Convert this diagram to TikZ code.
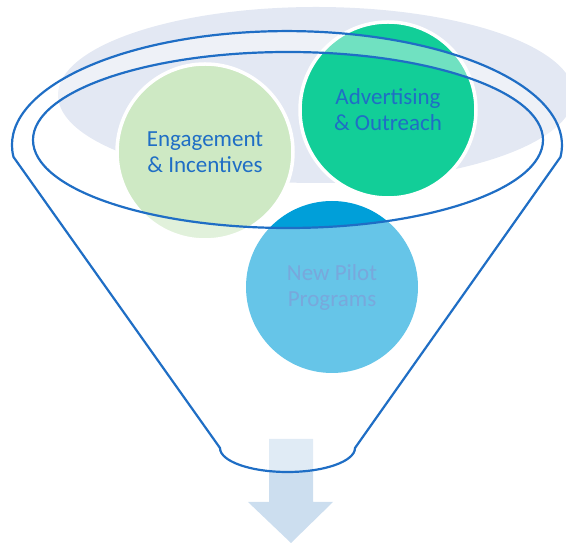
\documentclass[tikz,border=0pt]{standalone}
\usepackage{fontspec}
\setmainfont{Carlito}
\usetikzlibrary{positioning}
\definecolor{backgrey}{HTML}{E3E8F3}
\definecolor{engagegreen}{HTML}{CEE9C4}
\definecolor{advertgreen}{HTML}{12CE98}
\definecolor{pilotblue}{HTML}{009FD9}
\definecolor{arrowblue}{HTML}{CCDEEF}
\definecolor{funnelblue}{HTML}{1F6EC5}
\tikzset{
  bubble/.style={circle,inner sep=0pt,minimum size=176pt,align=center,
    text=funnelblue,font=\fontsize{23}{26}\selectfont},
  rim/.style={draw=white,line width=3.5pt},
  funnelline/.style={draw=funnelblue,line width=2.2pt,line join=round}
}
\begin{document}
\begin{tikzpicture}[x=1pt,y=1pt]
\useasboundingbox (0,0) rectangle (566,546);
% backdrop
\fill[backgrey] (316,451) ellipse[x radius=258pt,y radius=88pt];

\node[bubble,rim,fill=engagegreen] (engage) at (205,394) {Engagement\\\& Incentives};
\node[bubble,rim,fill=advertgreen] (advert) at (388,436) {Advertising\\\& Outreach};
\node[bubble,fill=pilotblue,minimum size=172pt] (pilot) at (332,259) {New Pilot\\Programs};

% arrow out of the funnel
\fill[arrowblue] (269,107) -- (313,107) -- (313,44) -- (333,44) -- (291,3)
  -- (248,44) -- (269,44) -- cycle;

% funnel body
\path[fill=white,fill opacity=0.4,even odd rule]
  (13.5,389) arc[start angle=186,end angle=-6,x radius=275pt,y radius=114pt]
  -- (355,98) arc[start angle=0,end angle=-180,x radius=67.5pt,y radius=24pt]
  -- cycle
  (288,406) ellipse[x radius=255pt,y radius=88pt];
\draw[funnelline]
  (13.5,389) arc[start angle=186,end angle=-6,x radius=275pt,y radius=114pt]
  -- (355,98) arc[start angle=0,end angle=-180,x radius=67.5pt,y radius=24pt]
  -- cycle;
\draw[funnelline] (288,406) ellipse[x radius=255pt,y radius=88pt];
\end{tikzpicture}
\end{document}
